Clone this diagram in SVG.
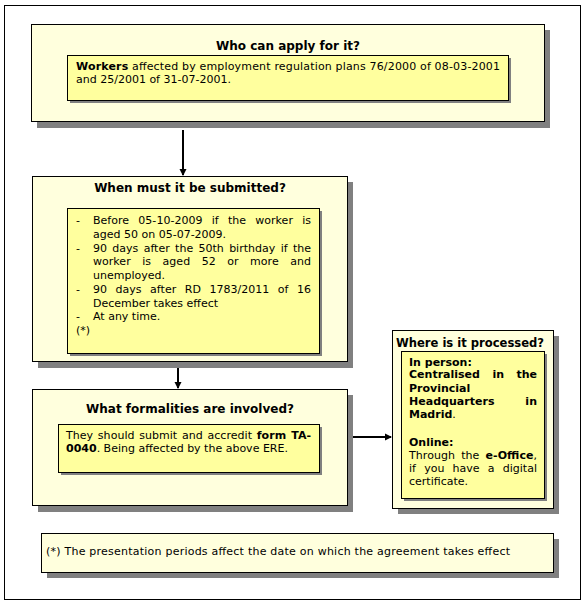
<svg xmlns="http://www.w3.org/2000/svg" width="586" height="604" viewBox="0 0 586 604">
<style>
.frame{fill:#fff;stroke:#000;stroke-width:1}
.shadow{fill:#808080}
.outer{fill:#FFFFDD;stroke:#000;stroke-width:1}
.inner{fill:#FFFF9E;stroke:#000;stroke-width:1}
.title{font-family:"DejaVu Sans",Verdana,sans-serif;font-size:12px;font-weight:bold;fill:#000;text-anchor:middle}
.body{font-family:"DejaVu Sans",Verdana,sans-serif;font-size:11px;fill:#000}
.b{font-weight:bold}
.conn{stroke:#000;stroke-width:2;fill:none}
</style>
<defs>
<marker id="arr" markerWidth="8" markerHeight="8" refX="6" refY="4" orient="auto" markerUnits="userSpaceOnUse">
<path d="M0,0.5 L7,4 L0,7.5 Z" fill="#000"/>
</marker>
</defs>
<rect class="frame" x="4.5" y="5.5" width="576" height="594"/>

<g id="connectors">
<line class="conn" x1="183" y1="130" x2="183" y2="175" marker-end="url(#arr)"/>
<line class="conn" x1="178" y1="367" x2="178" y2="388" marker-end="url(#arr)"/>
<line class="conn" x1="347" y1="437" x2="391" y2="437" marker-end="url(#arr)"/>
</g>

<g id="who">
<rect class="shadow" x="37" y="30" width="513" height="98"/>
<rect class="outer" x="31.5" y="24.5" width="513" height="97"/>
<text class="title" x="288" y="50">Who can apply for it?</text>
<rect class="shadow" x="70" y="58" width="441" height="45"/>
<rect class="inner" x="67.5" y="55.5" width="441" height="45"/>
<text class="body" x="76" y="70" textLength="424" lengthAdjust="spacing"><tspan class="b">Workers</tspan> affected by employment regulation plans 76/2000 of 08-03-2001</text>
<text class="body" x="76" y="83">and 25/2001 of 31-07-2001.</text>
</g>

<g id="when">
<rect class="shadow" x="38" y="182" width="315" height="186"/>
<rect class="outer" x="32.5" y="176.5" width="315" height="185"/>
<text class="title" x="190" y="192">When must it be submitted?</text>
<rect class="shadow" x="70" y="211" width="252" height="145"/>
<rect class="inner" x="67.5" y="208.5" width="252" height="145"/>
<g class="body">
<text x="76" y="224">-</text>
<text x="93" y="224" word-spacing="5.7" textLength="218" lengthAdjust="spacing">Before 05-10-2009 if the worker is</text>
<text x="93" y="238">aged 50 on 05-07-2009.</text>
<text x="76" y="252">-</text>
<text x="93" y="252" word-spacing="1.8" textLength="218" lengthAdjust="spacing">90 days after the 50th birthday if the</text>
<text x="93" y="265" word-spacing="8" textLength="218" lengthAdjust="spacing">worker is aged 52 or more and</text>
<text x="93" y="279">unemployed.</text>
<text x="76" y="293">-</text>
<text x="93" y="293" word-spacing="5" textLength="218" lengthAdjust="spacing">90 days after RD 1783/2011 of 16</text>
<text x="93" y="307">December takes effect</text>
<text x="76" y="320">-</text>
<text x="93" y="320">At any time.</text>
<text x="76" y="334">(*)</text>
</g>
</g>

<g id="formalities">
<rect class="shadow" x="38" y="395" width="315" height="117"/>
<rect class="outer" x="32.5" y="389.5" width="315" height="116"/>
<text class="title" x="190" y="413">What formalities are involved?</text>
<rect class="shadow" x="61" y="427" width="261" height="48"/>
<rect class="inner" x="58.5" y="424.5" width="261" height="48"/>
<text class="body" x="66" y="439" word-spacing="1.2" textLength="245" lengthAdjust="spacing">They should submit and accredit <tspan class="b">form TA-</tspan></text>
<text class="body" x="66" y="452"><tspan class="b">0040</tspan>. Being affected by the above ERE.</text>
</g>

<g id="where">
<rect class="shadow" x="398" y="336" width="161" height="178"/>
<rect class="outer" x="392.5" y="330.5" width="161" height="178"/>
<text class="title" x="470" y="347" textLength="148" lengthAdjust="spacingAndGlyphs">Where is it processed?</text>
<rect class="shadow" x="404" y="354" width="143" height="147"/>
<rect class="inner" x="401.5" y="351.5" width="143" height="147"/>
<g class="body">
<text class="b" x="409" y="366">In person:</text>
<text class="b" x="409" y="378" word-spacing="8.6" textLength="128" lengthAdjust="spacing">Centralised in the</text>
<text class="b" x="409" y="392">Provincial</text>
<text class="b" x="409" y="405" word-spacing="27" textLength="128" lengthAdjust="spacing">Headquarters in</text>
<text x="409" y="418"><tspan class="b">Madrid</tspan>.</text>
<text class="b" x="409" y="446">Online:</text>
<text x="409" y="459" word-spacing="2.5" textLength="128" lengthAdjust="spacing">Through the <tspan class="b">e-Office</tspan>,</text>
<text x="409" y="472" word-spacing="4.7" textLength="128" lengthAdjust="spacing">if you have a digital</text>
<text x="409" y="485">certificate.</text>
</g>
</g>

<g id="footnote">
<rect class="shadow" x="47" y="539" width="512" height="39"/>
<rect class="outer" x="41.5" y="533.5" width="512" height="39"/>
<text class="body" x="46" y="555" textLength="464" lengthAdjust="spacing">(*) The presentation periods affect the date on which the agreement takes effect</text>
</g>
</svg>
